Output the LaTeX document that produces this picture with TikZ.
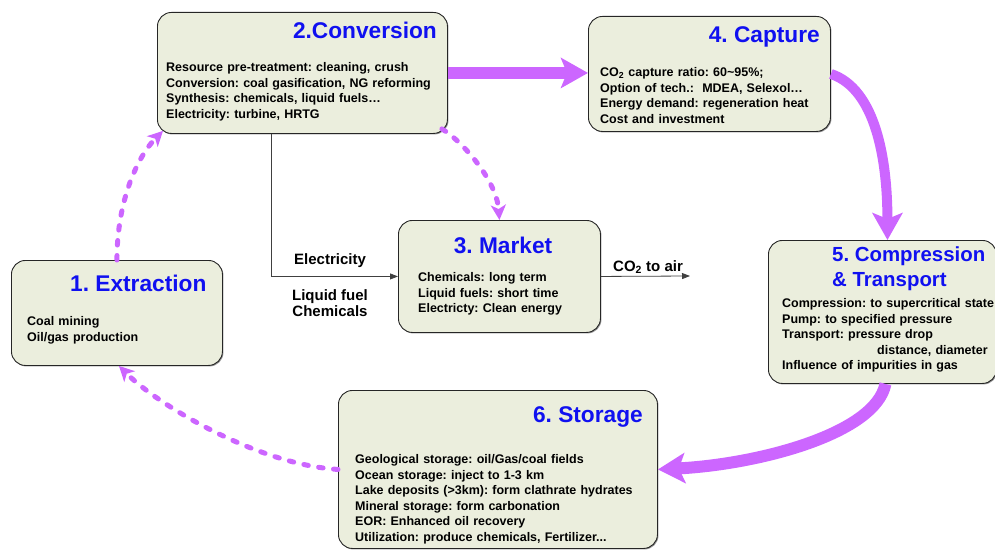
\documentclass[tikz,border=0pt]{standalone}
\usepackage{fontspec}
\setmainfont{Liberation Sans}
\usetikzlibrary{arrows.meta,calc,shadows}
\definecolor{boxfill}{RGB}{235,238,221}
\definecolor{flow}{RGB}{204,102,255}
\definecolor{ttl}{RGB}{16,16,240}
\frenchspacing
\begin{document}
\begin{tikzpicture}[x=1pt,y=-1pt,
  box/.style={draw=black!85, line width=0.9pt, fill=boxfill, rounded corners=14pt,
    anchor=north west, inner sep=0pt,
    drop shadow={shadow xshift=1pt, shadow yshift=-1pt, fill=black!60, opacity=0.7}},
  title/.style={font=\fontsize{22.7}{25}\selectfont\bfseries\frenchspacing, text=ttl, inner sep=0pt, align=left},
  smalltitle/.style={title, font=\fontsize{20.4}{23}\selectfont\bfseries\frenchspacing},
  body/.style={font=\fontsize{12.5}{15.6}\selectfont\bfseries\frenchspacing, inner sep=0pt, anchor=base west,
    text width=320pt, align=left},
  lbl/.style={font=\fontsize{15}{16}\selectfont\bfseries, inner sep=0pt, anchor=base},
  thickflow/.style={draw=flow, line width=12pt, -{Stealth[length=27pt,width=30pt,inset=6pt]}},
  dashflow/.style={draw=flow, line width=5pt, line cap=round, dash pattern=on 4.5pt off 10.5pt,
    -{Stealth[length=15pt,width=15pt,inset=4pt]}},
  blk/.style={draw=black!75, line width=0.8pt, -{Triangle[length=8pt,width=6pt]}}
]
\useasboundingbox (0,0) rectangle (995,551);

% boxes
\node[box, minimum width=290pt, minimum height=121pt] (conv) at (157,12) {};
\node[box, minimum width=242pt, minimum height=115pt] (cap) at (588,16) {};
\node[box, minimum width=211pt, minimum height=105pt] (ext) at (11,260) {};
\node[box, minimum width=202pt, minimum height=112pt] (mkt) at (398,220) {};
\node[box, minimum width=228pt, minimum height=143pt] (comp) at (768,240) {};
\node[box, minimum width=319pt, minimum height=158pt] (stor) at (338,390) {};

% titles
\node[title, anchor=base east] (tconv) at (437,39) {2.Conversion};
\node[title, anchor=base east] (tcap) at (820,42) {4. Capture};
\node[title, anchor=base west] (text) at (70,291) {1. Extraction};
\node[title, anchor=base] (tmkt) at (503,253) {3. Market};
\node[smalltitle, anchor=base west] (tcomp1) at (832,261.5) {5. Compression};
\node[smalltitle, anchor=base west] (tcomp2) at (832,286.5) {\& Transport};
\node[title, anchor=base east] (tstor) at (643,422) {6. Storage};

% bodies
\node[body] (bconv) at (166,71.5) {Resource pre-treatment: cleaning, crush\\
Conversion: coal gasification, NG reforming\\
Synthesis: chemicals, liquid fuels…\\
Electricity: turbine, HRTG};
\node[body] (bcap) at (600,76.5) {CO\textsubscript{2} capture ratio: 60\textasciitilde95\%;\\
Option of tech.:\ \ MDEA, Selexol…\\
Energy demand: regeneration heat\\
Cost and investment};
\node[body] (bext) at (27,325.5) {Coal mining\\Oil/gas production};
\node[body] (bmkt) at (418,281.5) {Chemicals: long term\\
Liquid fuels: short time\\
Electricty: Clean energy};
\node[body] (bcomp) at (782,307.5) {Compression: to supercritical state\\
Pump: to specified pressure\\
Transport: pressure drop\\
\hspace*{95pt}distance, diameter\\
Influence of impurities in gas};
\node[body] (bstor) at (355,463.5) {Geological storage: oil/Gas/coal fields\\
Ocean storage: inject to 1-3 km\\
Lake deposits (>3km): form clathrate hydrates\\
Mineral storage: form carbonation\\
EOR: Enhanced oil recovery\\
Utilization: produce chemicals, Fertilizer...};

% labels
\node[lbl] (lelec) at (330,264.5) {Electricity};
\node[lbl] (lliq) at (330,300.5) {Liquid fuel};
\node[lbl] (lchem) at (330,316.5) {Chemicals};
\node[lbl, anchor=base west] (lco2) at (613,271) {CO\textsubscript{2} to air};

% black connectors
\coordinate (air) at (690,276);
\draw[blk] ($(conv.south)+(-31,0)$) |- (mkt.west);
\draw[blk] (mkt.east) -- (air);

% thick purple flows
\draw[thickflow] (conv.east) -- (conv.east -| cap.west);
\draw[draw=flow, line width=10pt, -{Stealth[length=27pt,width=30pt,inset=6pt]}]
  (cap.east) .. controls +(45,15) and +(0,-80) .. ([xshift=5pt]comp.north);
\draw[thickflow] ([xshift=3pt]comp.south) .. controls +(-10,50) and +(100,-5) .. (stor.east);

% dashed purple flows
\draw[dashflow] (ext.north) .. controls +(0,-60) and +(-25,25) .. ($(conv.south west)+(6,-3)$);
\draw[dashflow] ($(conv.south east)+(-6,-5)$) .. controls +(20,12) and +(-3,-40) .. (mkt.north);
\draw[dashflow] (stor.west) .. controls +(-80,-5) and +(40,40) .. ([xshift=2pt]ext.south);
\end{tikzpicture}
\end{document}
